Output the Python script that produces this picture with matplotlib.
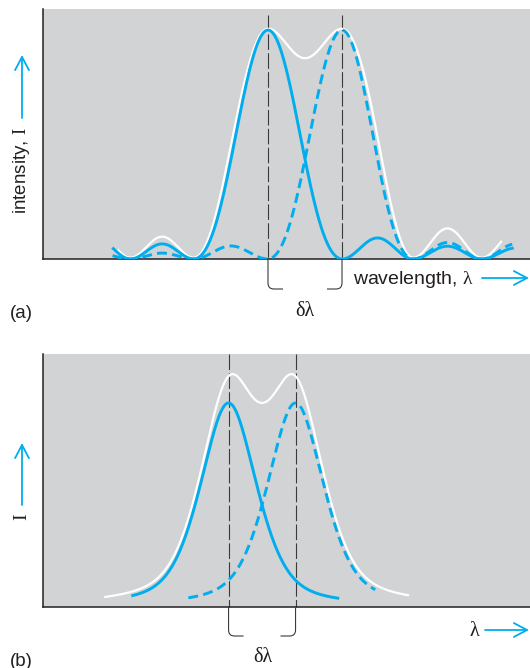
import numpy as np
import matplotlib
matplotlib.use("Agg")
import matplotlib.pyplot as plt
from matplotlib.path import Path
from matplotlib.patches import PathPatch
from matplotlib import transforms

plt.rcParams['font.family'] = ['Liberation Sans', 'DejaVu Sans']
plt.rcParams['mathtext.fontset'] = 'custom'
plt.rcParams['mathtext.rm'] = 'Liberation Serif'
plt.rcParams['mathtext.it'] = 'Liberation Serif:italic'

BLUE = '#00aeef'
GREY = '#d1d3d4'
INK = '#231f20'

# ---- panel (a): two diffraction patterns, x in units of the separation dlambda
a_peaks = [0.0, 1.0]                      # solid line, dashed line
a_zeros = [-2.75, -1.86, -1.0, 0.0, 1.0, 1.96, 2.89, 3.8]
a_solid_lobes = [0.086, 0.066, 1.0, 0.092, 0.056, 0.048]
a_dashed_lobes = [0.026, 0.026, 0.057, 1.0, 0.072, 0.066]
a_solid_span = (-2.09, 3.30)
a_dashed_span = (-2.10, 3.30)
a_white_span = (-2.03, 3.16)
a_main_power = 0.92
a_xlim = (-3.04, 3.54)
a_ylim = (0, 1.092)

# ---- panel (b): two broadened lines
b_peaks = [0.0, 1.0]
b_hwhm = 0.50
b_lorentz_frac = 0.5
b_solid_span = (-1.43, 1.63)
b_dashed_span = (-0.60, 2.19)
b_white_span = (-1.84, 2.68)
b_xlim = (-2.77, 4.50)
b_ylim = (0, 1.24)


def diffraction(x, peak, lobes):
    # piecewise lobes between the zero crossings, main lobe around the peak
    zs = [z for z in a_zeros if abs(z - peak) > 1e-9]
    y = np.zeros_like(x)
    for (z0, z1), h in zip(zip(zs[:-1], zs[1:]), lobes):
        m = (x >= z0) & (x <= z1)
        if z0 < peak < z1:
            u = np.where(x[m] < peak, (x[m] - peak) / (peak - z0), (x[m] - peak) / (z1 - peak))
            y[m] = h * np.abs(np.sinc(u)) ** (2 * a_main_power)
        else:
            y[m] = h * np.sin(np.pi * (x[m] - z0) / (z1 - z0)) ** 2
    return y


def line_shape(x, peak):
    d = (x - peak) / b_hwhm
    return b_lorentz_frac / (1 + d ** 2) + (1 - b_lorentz_frac) * np.exp(-np.log(2) * d ** 2)


fig = plt.figure(figsize=(5.30, 6.68), dpi=100)
W, H = 530, 668


def make_axes(top_px, bottom_px):
    ax = fig.add_axes([43 / W, (H - bottom_px) / H, (W - 43) / W, (bottom_px - top_px) / H])
    ax.set_facecolor(GREY)
    for s in ['top', 'right']:
        ax.spines[s].set_visible(False)
    for s in ['left', 'bottom']:
        ax.spines[s].set_color(INK)
        ax.spines[s].set_linewidth(1.1)
    ax.set_xticks([])
    ax.set_yticks([])
    return ax


def bracket(ax, peaks, y_top_frac, corner_px, stub=15, r=6):
    # vertical dashed markers at the peaks and the small bracket under the axis
    for i, p in enumerate(peaks):
        ax.plot([p, p], [y_top_frac, 0], transform=ax.get_xaxis_transform(),
                color='#3a3a3a', lw=0.8, dashes=(14, 3), clip_on=False, zorder=1)
        xp = ax.transData.transform((p, 0))[0]
        y0 = ax.transAxes.transform((0, 0))[1]
        yc = H - corner_px
        sgn = 1 if i == 0 else -1
        verts = [(xp, y0), (xp, yc + r), (xp, yc), (xp + sgn * r, yc), (xp + sgn * stub, yc)]
        codes = [Path.MOVETO, Path.LINETO, Path.CURVE3, Path.CURVE3, Path.LINETO]
        fig.add_artist(PathPatch(Path(verts, codes), fill=False, ec='#3a3a3a', lw=0.8,
                                 transform=transforms.IdentityTransform()))


def arrow(x0, y0, x1, y1):
    fig.add_artist(matplotlib.patches.FancyArrowPatch(
        (x0, H - y0), (x1, H - y1), transform=transforms.IdentityTransform(),
        arrowstyle='->,head_length=0.95,head_width=0.5', mutation_scale=10,
        color=BLUE, lw=1.3, shrinkA=0, shrinkB=0))


def ftext(x, y, s, **kw):
    fig.text(x / W, (H - y) / H, s, **kw)


# ---------------- panel (a) ----------------
axa = make_axes(9, 259)
axa.set_xlim(*a_xlim)
axa.set_ylim(*a_ylim)

xs = np.linspace(*a_solid_span, 800)
xd = np.linspace(*a_dashed_span, 800)
xw = np.linspace(*a_white_span, 800)
white_a = diffraction(xw, a_peaks[0], a_solid_lobes) + diffraction(xw, a_peaks[1], a_dashed_lobes)
up = transforms.offset_copy(axa.transData, fig=fig, x=0, y=1.3, units='dots')
axa.plot(xw, white_a, color='white', lw=1.6, transform=up, zorder=2, solid_capstyle='butt')
axa.plot(xs, diffraction(xs, a_peaks[0], a_solid_lobes), color=BLUE, lw=2.1, zorder=3)
axa.plot(xd, diffraction(xd, a_peaks[1], a_dashed_lobes), color=BLUE, lw=2.1,
         dashes=(3.4, 1.8), zorder=3)
bracket(axa, a_peaks, 0.976, 289)

ftext(22, 171, 'intensity, $\\mathrm{I}$', rotation=90, ha='center', va='center',
      fontsize=13.5, color=INK)
arrow(22, 118, 22, 55)
ftext(353, 279, 'wavelength, $\\mathrm{\\lambda}$', ha='left', va='center', fontsize=14, color=INK)
arrow(482, 278, 529, 278)
ftext(305, 311, 'δλ', ha='center', va='center', fontsize=14.5, color=INK,
      family=['Liberation Serif', 'DejaVu Serif'])
ftext(10, 313, '(a)', ha='left', va='center', fontsize=13.5, color=INK)

# ---------------- panel (b) ----------------
axb = make_axes(354, 607)
axb.set_xlim(*b_xlim)
axb.set_ylim(*b_ylim)

xs = np.linspace(*b_solid_span, 600)
xd = np.linspace(*b_dashed_span, 600)
xw = np.linspace(*b_white_span, 600)
axb.plot(xw, line_shape(xw, b_peaks[0]) + line_shape(xw, b_peaks[1]), color='white', lw=1.6, zorder=2)
axb.plot(xs, line_shape(xs, b_peaks[0]), color=BLUE, lw=2.1, zorder=3)
axb.plot(xd, line_shape(xd, b_peaks[1]), color=BLUE, lw=2.1, dashes=(3.4, 1.8), zorder=3)
bracket(axb, b_peaks, 1.0, 636)

ftext(22, 517, 'I', rotation=90, ha='center', va='center', fontsize=14, color=INK,
      family=['Liberation Serif', 'DejaVu Serif'])
arrow(22, 505, 22, 443)
ftext(474, 632, 'λ', ha='center', va='center', fontsize=14.5, color=INK,
      family=['Liberation Serif', 'DejaVu Serif'])
arrow(485, 630, 529, 630)
ftext(263, 657, 'δλ', ha='center', va='center', fontsize=14.5, color=INK,
      family=['Liberation Serif', 'DejaVu Serif'])
ftext(10, 661, '(b)', ha='left', va='center', fontsize=13.5, color=INK)

fig.savefig('out.png', dpi=100)
